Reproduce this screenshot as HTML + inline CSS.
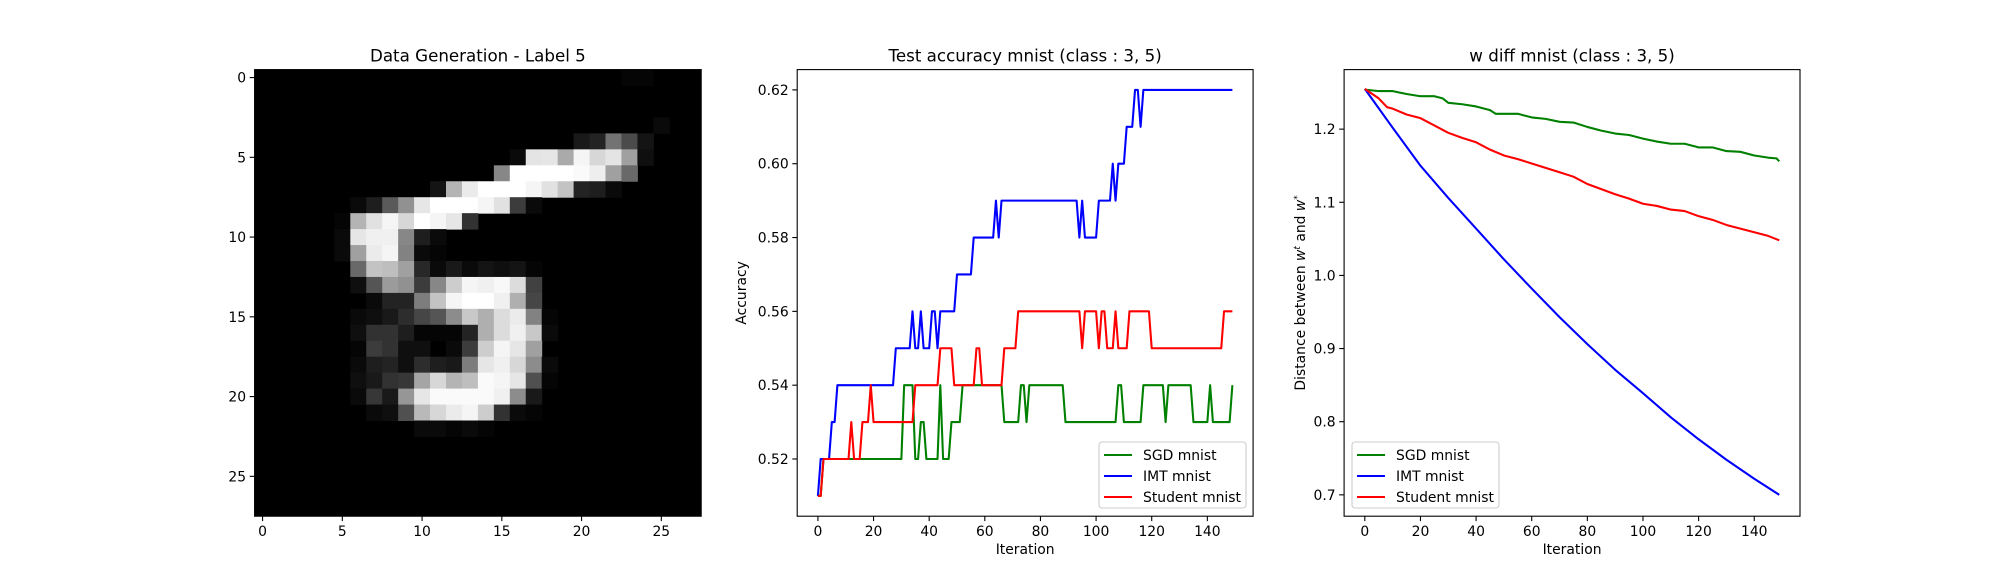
<!DOCTYPE html>
<html><head><meta charset="utf-8"><style>
html,body{margin:0;padding:0;background:#fff;}
svg{display:block;font-family:"DejaVu Sans","Liberation Sans",sans-serif;}
</style></head><body>
<svg id="fig" width="2000" height="580" viewBox="0 0 2000 580" xmlns="http://www.w3.org/2000/svg"></svg>
<script>
// ---- Panel 1: generated image (sparse [row, col, value]) ----
const imgPixels = [
[0,23,5],[0,24,5],[3,25,10],
[4,20,25],[4,21,35],[4,22,115],[4,23,75],[4,24,20],
[5,16,10],[5,17,228],[5,18,230],[5,19,170],[5,20,245],[5,21,215],[5,22,228],[5,23,160],[5,24,15],
[6,15,135],[6,16,255],[6,17,255],[6,18,255],[6,19,255],[6,20,250],[6,21,238],[6,22,160],[6,23,105],
[7,11,20],[7,12,180],[7,13,235],[7,14,255],[7,15,255],[7,16,255],[7,17,245],[7,18,225],[7,19,195],[7,20,35],[7,21,30],[7,22,10],
[8,6,10],[8,7,30],[8,8,90],[8,9,145],[8,10,230],[8,11,255],[8,12,255],[8,13,255],[8,14,245],[8,15,225],[8,16,60],[8,17,10],
[9,5,5],[9,6,180],[9,7,225],[9,8,245],[9,9,215],[9,10,255],[9,11,245],[9,12,230],[9,13,50],
[10,5,10],[10,6,230],[10,7,240],[10,8,240],[10,9,135],[10,10,30],[10,11,10],
[11,5,10],[11,6,160],[11,7,235],[11,8,245],[11,9,130],[11,10,10],[11,11,5],
[12,6,105],[12,7,195],[12,8,190],[12,9,160],[12,10,40],[12,11,10],[12,12,25],[12,13,10],[12,14,20],[12,15,15],[12,16,20],[12,17,5],
[13,6,15],[13,7,85],[13,8,155],[13,9,145],[13,10,60],[13,11,135],[13,12,205],[13,13,245],[13,14,240],[13,15,248],[13,16,220],[13,17,65],
[14,7,10],[14,8,35],[14,9,35],[14,10,125],[14,11,195],[14,12,245],[14,13,255],[14,14,255],[14,15,240],[14,16,175],[14,17,70],
[15,6,10],[15,7,15],[15,8,25],[15,9,45],[15,10,70],[15,11,85],[15,12,140],[15,13,200],[15,14,175],[15,15,220],[15,16,235],[15,17,130],[15,18,5],
[16,6,15],[16,7,50],[16,8,50],[16,9,30],[16,10,5],[16,11,5],[16,12,5],[16,13,35],[16,14,175],[16,15,220],[16,16,240],[16,17,200],[16,18,10],
[17,6,5],[17,7,60],[17,8,50],[17,9,15],[17,10,15],[17,12,10],[17,13,60],[17,14,205],[17,15,245],[17,16,230],[17,17,160],
[18,6,10],[18,7,30],[18,8,35],[18,9,15],[18,10,45],[18,11,30],[18,12,25],[18,13,125],[18,14,230],[18,15,240],[18,16,215],[18,17,140],[18,18,10],
[19,6,15],[19,7,25],[19,8,50],[19,9,55],[19,10,165],[19,11,215],[19,12,180],[19,13,190],[19,14,250],[19,15,245],[19,16,230],[19,17,80],[19,18,5],
[20,6,10],[20,7,55],[20,8,25],[20,9,150],[20,10,230],[20,11,250],[20,12,250],[20,13,250],[20,14,250],[20,15,240],[20,16,140],[20,17,25],
[21,7,10],[21,8,15],[21,9,80],[21,10,185],[21,11,215],[21,12,235],[21,13,245],[21,14,205],[21,15,50],[21,16,10],[21,17,5],
[22,10,10],[22,11,10],[22,12,5],[22,13,10],[22,14,5]
];
const imgTicks = [0,5,10,15,20,25];

// ---- Panel 2: accuracy (run-length: [value, count]) ----
const sgdRuns = [[0.51,2],[0.52,29],[0.54,4],[0.52,2],[0.53,2],[0.52,5],[0.54,1],[0.52,3],[0.53,4],[0.54,15],[0.53,6],[0.54,2],[0.53,1],[0.54,13],[0.53,19],[0.54,2],[0.53,7],[0.54,8],[0.53,1],[0.54,9],[0.53,6],[0.54,1],[0.53,7],[0.54,1]];
const imtRuns = [[0.51,1],[0.52,4],[0.53,2],[0.54,21],[0.55,6],[0.56,1],[0.55,2],[0.56,1],[0.55,3],[0.56,2],[0.55,1],[0.56,6],[0.57,6],[0.58,8],[0.59,1],[0.58,1],[0.59,28],[0.58,1],[0.59,1],[0.58,5],[0.59,5],[0.60,1],[0.59,1],[0.60,3],[0.61,3],[0.62,2],[0.61,1],[0.62,33]];
const studentRuns = [[0.51,2],[0.52,10],[0.53,1],[0.52,3],[0.53,3],[0.54,1],[0.53,15],[0.54,9],[0.55,5],[0.54,8],[0.55,2],[0.54,8],[0.55,5],[0.56,23],[0.55,1],[0.56,5],[0.55,1],[0.56,2],[0.55,3],[0.56,1],[0.55,4],[0.56,8],[0.55,26],[0.56,4]];
const accYTicks = [0.52,0.54,0.56,0.58,0.60,0.62];
const iterTicks = [0,20,40,60,80,100,120,140];

// ---- Panel 3: w diff ----
const sgdIter = [0,5,10,15,20,25,28,30,35,40,45,47,55,60,65,70,75,80,85,90,95,100,105,110,115,120,125,130,135,140,145,148,149];
const sgdDiff = [1.254,1.252,1.252,1.248,1.245,1.245,1.242,1.236,1.234,1.231,1.226,1.221,1.221,1.216,1.214,1.210,1.209,1.203,1.198,1.194,1.192,1.187,1.183,1.180,1.180,1.175,1.175,1.170,1.169,1.164,1.161,1.160,1.156];
const imtIter = [0,10,20,30,40,50,60,70,80,90,100,110,120,130,140,149];
const imtDiff = [1.255,1.202,1.150,1.106,1.064,1.022,0.982,0.943,0.906,0.871,0.839,0.806,0.776,0.748,0.722,0.700];
const stuIter = [0,5,8,10,15,20,25,30,35,40,45,50,55,60,65,70,75,80,85,90,95,100,105,110,115,120,125,130,135,140,145,149];
const stuDiff = [1.255,1.242,1.230,1.228,1.220,1.215,1.205,1.195,1.188,1.182,1.172,1.164,1.159,1.153,1.147,1.141,1.135,1.125,1.118,1.111,1.105,1.098,1.095,1.090,1.088,1.081,1.076,1.069,1.064,1.059,1.054,1.048];
const diffYTicks = [0.7,0.8,0.9,1.0,1.1,1.2];

const NS = "http://www.w3.org/2000/svg";
const svg = document.getElementById('fig');
function mk(tag, attrs, parent){ const e=document.createElementNS(NS,tag); for(const k in attrs) e.setAttribute(k,attrs[k]); (parent||svg).appendChild(e); return e; }
function txt(s, attrs, parent){ const e=mk('text',attrs,parent); e.textContent=s; return e; }
function expand(runs){ const a=[]; runs.forEach(r=>{for(let i=0;i<r[1];i++)a.push(r[0]);}); return a; }

const TOP=69.6, BOT=516.2, FS=13.9;

function axisFrame(g,L,R){ mk('rect',{x:L,y:TOP,width:R-L,height:BOT-TOP,fill:'none',stroke:'#000','stroke-width':1.1},g); }
function xTicks(g,ticks,sx,fmt){
  ticks.forEach(t=>{ const x=sx(t);
    const l=mk('line',{x1:x,x2:x,y1:BOT,y2:BOT+4.9,stroke:'#000','stroke-width':1.1},g);
     
    const tx=txt(fmt(t),{x:x,y:BOT+20,'font-size':FS,'text-anchor':'middle',fill:'#000'},g);
     
  });
}
function yTicks(g,ticks,sy,L,fmt){
  ticks.forEach(t=>{ const y=sy(t);
    const l=mk('line',{x1:L-4.9,x2:L,y1:y,y2:y,stroke:'#000','stroke-width':1.1},g);
     
    const tx=txt(fmt(t),{x:L-8.5,y:y+5,'font-size':FS,'text-anchor':'end',fill:'#000'},g);
     
  });
}
function line(g,xs,ys,sx,sy,color,name){
  const d=xs.map((x,i)=>(i?'L':'M')+sx(x).toFixed(2)+','+sy(ys[i]).toFixed(2)).join('');
  const p=mk('path',{d:d,fill:'none',stroke:color,'stroke-width':2.08,'stroke-linejoin':'round'},g);
   
}
function legend(g,x0,y0,items){
  const box=mk('rect',{x:x0,y:y0,width:147,height:66,rx:3,fill:'#fff','fill-opacity':0.8,stroke:'#ccc','stroke-width':1.1},g);
   
  items.forEach((it,i)=>{ const y=y0+13+i*21;
    const ln=mk('line',{x1:x0+5,x2:x0+33,y1:y,y2:y,stroke:it[1],'stroke-width':2.08},g);
     
    const t=txt(it[0],{x:x0+44,y:y+5,'font-size':FS,fill:'#000'},g);
     
  });
}

// Panel 1
(function(){
  const g=mk('g',{});
  const L=254.6,R=701.2, cw=(R-L)/28, ch=(BOT-TOP)/28;
  mk('rect',{x:L,y:TOP,width:R-L,height:BOT-TOP,fill:'#000'},g);
  imgPixels.forEach(p=>{
    const r=mk('rect',{x:(L+p[1]*cw).toFixed(2),y:(TOP+p[0]*ch).toFixed(2),width:(cw+0.5).toFixed(2),height:(ch+0.5).toFixed(2),fill:`rgb(${p[2]},${p[2]},${p[2]})`},g);
     
  });
  axisFrame(g,L,R);
  xTicks(g,imgTicks,v=>L+(v+0.5)*cw,String);
  yTicks(g,imgTicks,v=>TOP+(v+0.5)*ch,L,String);
  txt('Data Generation - Label 5',{x:(L+R)/2,y:TOP-8,'font-size':16.7,'text-anchor':'middle',},g);
})();

// Panel 2
(function(){
  const g=mk('g',{});
  const L=797.2,R=1253.1, x0=-7.45,x1=156.45, y0=0.5045,y1=0.6255;
  const sx=v=>L+(v-x0)/(x1-x0)*(R-L), sy=v=>BOT-(v-y0)/(y1-y0)*(BOT-TOP);
  const sgd=expand(sgdRuns), imt=expand(imtRuns), stu=expand(studentRuns);
  const it=a=>a.map((_,i)=>i);
  line(g,it(sgd),sgd,sx,sy,'#008000','sgd-accuracy-line');
  line(g,it(imt),imt,sx,sy,'#0000ff','imt-accuracy-line');
  line(g,it(stu),stu,sx,sy,'#ff0000','student-accuracy-line');
  axisFrame(g,L,R);
  xTicks(g,iterTicks,sx,String);
  yTicks(g,accYTicks,sy,L,v=>v.toFixed(2));
  txt('Test accuracy mnist (class : 3, 5)',{x:(L+R)/2,y:TOP-8,'font-size':16.7,'text-anchor':'middle',},g);
  txt('Iteration',{x:(L+R)/2,y:BOT+38,'font-size':FS,'text-anchor':'middle',},g);
  txt('Accuracy',{x:0,y:0,'font-size':FS,'text-anchor':'middle',transform:`translate(746,${(TOP+BOT)/2}) rotate(-90)`,},g);
  legend(g,1099,442,[['SGD mnist','#008000'],['IMT mnist','#0000ff'],['Student mnist','#ff0000']]);
})();

// Panel 3
(function(){
  const g=mk('g',{});
  const L=1344.1,R=1800, x0=-7.45,x1=156.45, y0=0.6708,y1=1.2814;
  const sx=v=>L+(v-x0)/(x1-x0)*(R-L), sy=v=>BOT-(v-y0)/(y1-y0)*(BOT-TOP);
  line(g,sgdIter,sgdDiff,sx,sy,'#008000','sgd-diff-line');
  line(g,imtIter,imtDiff,sx,sy,'#0000ff','imt-diff-line');
  line(g,stuIter,stuDiff,sx,sy,'#ff0000','student-diff-line');
  axisFrame(g,L,R);
  xTicks(g,iterTicks,sx,String);
  yTicks(g,diffYTicks,sy,L,v=>v.toFixed(1));
  txt('w diff mnist (class : 3, 5)',{x:(L+R)/2,y:TOP-8,'font-size':16.7,'text-anchor':'middle',},g);
  txt('Iteration',{x:(L+R)/2,y:BOT+38,'font-size':FS,'text-anchor':'middle',},g);
  const yl=mk('text',{x:0,y:0,'font-size':FS,'text-anchor':'middle',transform:`translate(1305,${(TOP+BOT)/2}) rotate(-90)`,},g);
  yl.innerHTML='Distance between <tspan font-style="italic">w</tspan><tspan dy="-5" font-size="9" font-style="italic">t</tspan><tspan dy="5"> and </tspan><tspan font-style="italic">w</tspan><tspan dy="-5" font-size="9">*</tspan>';
  legend(g,1352,442,[['SGD mnist','#008000'],['IMT mnist','#0000ff'],['Student mnist','#ff0000']]);
})();
</script>
</body></html>
